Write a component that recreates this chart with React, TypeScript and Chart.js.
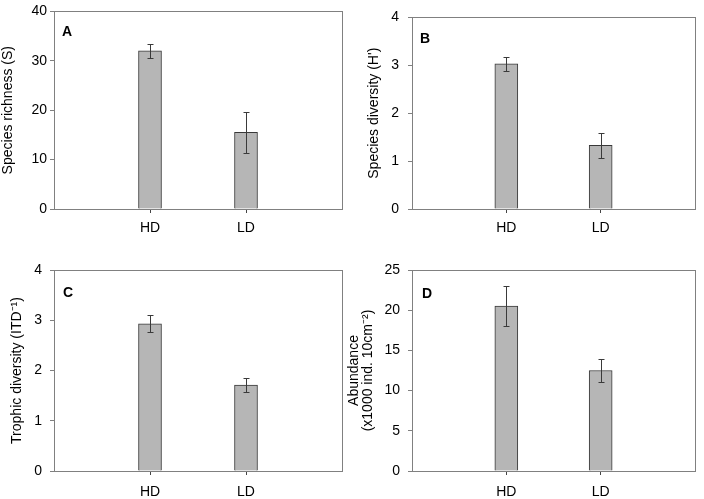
import React, { useEffect, useRef } from "react";
import { Chart, registerables } from "chart.js";

Chart.register(...registerables);

// ---- data ----
const categories = ["HD", "LD"];

const richnessMeans = [32, 15.5];
const richnessErrors = [1.4, 4.2];

const diversityMeans = [3.03, 1.33];
const diversityErrors = [0.15, 0.26];

const trophicMeans = [2.93, 1.71];
const trophicErrors = [0.17, 0.145];

const abundanceMeans = [20.5, 12.5];
const abundanceErrors = [2.5, 1.45];

const FONT = "'Liberation Sans', Arial, Helvetica, sans-serif";
const AXIS_GRAY = "#808080";

type PanelProps = {
  letter: string;
  means: number[];
  errors: number[];
  yMax: number;
  yStep: number;
  yTitle: string | string[];
  titleLineHeight: number;
  left: number;
  top: number;
  width: number;
  height: number;
  yAxisWidth: number;
  xAxisHeight: number;
  padTop: number;
  padRight: number;
  titlePad: number;
  tickPad: number;
  xTickPad: number;
  letterDx: number;
  letterDy: number;
};

function Panel(p: PanelProps) {
  const ref = useRef<HTMLCanvasElement | null>(null);
  useEffect(() => {
    if (!ref.current) return;
    const labels = ["", ...categories, ""];
    const values = [null, ...p.means, null];
    const errs = [null, ...p.errors, null];

    const errorBars = {
      id: "errorBars",
      afterDatasetsDraw(chart: any) {
        const ctx = chart.ctx;
        const xs = chart.scales.x;
        const ys = chart.scales.y;
        ctx.save();
        ctx.strokeStyle = "#3a3a3a";
        ctx.lineWidth = 1;
        for (let i = 0; i < values.length; i++) {
          const v = values[i];
          const e = errs[i];
          if (v == null || e == null) continue;
          const x = Math.round(xs.getPixelForValue(i)) + 0.5;
          const yt = Math.round(ys.getPixelForValue(v + e)) + 0.5;
          const yb = Math.round(ys.getPixelForValue(v - e)) + 0.5;
          ctx.beginPath();
          ctx.moveTo(x, yt);
          ctx.lineTo(x, yb);
          ctx.moveTo(x - 3, yt);
          ctx.lineTo(x + 3, yt);
          ctx.moveTo(x - 3, yb);
          ctx.lineTo(x + 3, yb);
          ctx.stroke();
        }
        ctx.restore();
      },
    };

    const frame = {
      id: "frame",
      afterDraw(chart: any) {
        const { ctx, chartArea } = chart;
        ctx.save();
        ctx.strokeStyle = AXIS_GRAY;
        ctx.lineWidth = 1;
        ctx.strokeRect(
          Math.round(chartArea.left) + 0.5,
          Math.round(chartArea.top) + 0.5,
          Math.round(chartArea.right - chartArea.left),
          Math.round(chartArea.bottom - chartArea.top)
        );
        ctx.fillStyle = "#000";
        ctx.font = `bold 14px ${FONT}`;
        ctx.textBaseline = "top";
        ctx.textAlign = "left";
        ctx.fillText(p.letter, chartArea.left + p.letterDx, chartArea.top + p.letterDy);
        ctx.restore();
      },
    };

    const chart = new Chart(ref.current, {
      type: "bar",
      data: {
        labels,
        datasets: [
          {
            data: values as any,
            backgroundColor: "#b6b6b6",
            borderColor: "#383838",
            borderWidth: 1,
            barThickness: 23,
          },
        ],
      },
      options: {
        animation: false,
        responsive: false,
        maintainAspectRatio: false,
        events: [],
        layout: { padding: { top: p.padTop, right: p.padRight, left: 0, bottom: 0 } },
        plugins: { legend: { display: false }, tooltip: { enabled: false }, title: { display: false } },
        scales: {
          x: {
            type: "category",
            offset: false,
            grid: {
              offset: false,
              drawOnChartArea: false,
              drawTicks: true,
              tickLength: 4,
              tickColor: (c: any) => (c.tick && c.tick.label ? "#444444" : "rgba(0,0,0,0)"),
            },
            border: { display: true, color: AXIS_GRAY },
            ticks: {
              color: "#000",
              font: { family: FONT, size: 14 },
              padding: p.xTickPad,
              maxRotation: 0,
              autoSkip: false,
            },
            afterFit: (s: any) => {
              s.height = p.xAxisHeight;
            },
          },
          y: {
            min: 0,
            max: p.yMax,
            grid: { drawOnChartArea: false, drawTicks: true, tickLength: 4, color: AXIS_GRAY },
            border: { display: true, color: AXIS_GRAY },
            ticks: {
              stepSize: p.yStep,
              color: "#000",
              font: { family: FONT, size: 14 },
              padding: p.tickPad,
            },
            title: {
              display: true,
              text: p.yTitle,
              color: "#000",
              font: { family: FONT, size: 14, lineHeight: p.titleLineHeight },
              padding: { top: p.titlePad, bottom: 0 },
            },
            afterFit: (s: any) => {
              s.width = p.yAxisWidth;
            },
          },
        },
      } as any,
      plugins: [errorBars, frame],
    });
    return () => chart.destroy();
  }, []);

  return (
    <div
      style={{
        position: "fixed",
        left: p.left,
        top: p.top,
        width: p.width,
        height: p.height,
      }}
    >
      <canvas ref={ref} width={p.width} height={p.height} style={{ display: "block" }} />
    </div>
  );
}

export default function App() {
  return (
    <div style={{ position: "fixed", left: 0, top: 0, width: 704, height: 499, background: "#fff" }}>
      <Panel
        letter="A"
        means={richnessMeans}
        errors={richnessErrors}
        yMax={40}
        yStep={10}
        yTitle="Species richness (S)"
        titleLineHeight={1.2}
        left={0}
        top={0}
        width={352}
        height={250}
        yAxisWidth={54}
        xAxisHeight={41}
        padTop={9}
        padRight={10}
        titlePad={0}
        tickPad={3}
        xTickPad={7}
        letterDx={8}
        letterDy={14}
      />
      <Panel
        letter="B"
        means={diversityMeans}
        errors={diversityErrors}
        yMax={4}
        yStep={1}
        yTitle="Species diversity (H')"
        titleLineHeight={1.2}
        left={352}
        top={0}
        width={352}
        height={250}
        yAxisWidth={60}
        xAxisHeight={41}
        padTop={9}
        padRight={9}
        titlePad={13.5}
        tickPad={9}
        xTickPad={7}
        letterDx={8}
        letterDy={15}
      />
      <Panel
        letter="C"
        means={trophicMeans}
        errors={trophicErrors}
        yMax={4}
        yStep={1}
        yTitle="Trophic diversity (ITD⁻¹)"
        titleLineHeight={1.2}
        left={0}
        top={250}
        width={352}
        height={249}
        yAxisWidth={54}
        xAxisHeight={28}
        padTop={20}
        padRight={10}
        titlePad={8.6}
        tickPad={8}
        xTickPad={9}
        letterDx={9}
        letterDy={16}
      />
      <Panel
        letter="D"
        means={abundanceMeans}
        errors={abundanceErrors}
        yMax={25}
        yStep={5}
        yTitle={["Abundance", "(x1000 ind. 10cm⁻²)"]}
        titleLineHeight={1.0}
        left={342}
        top={250}
        width={362}
        height={249}
        yAxisWidth={70}
        xAxisHeight={28}
        padTop={20}
        padRight={9}
        titlePad={5.2}
        tickPad={8}
        xTickPad={9}
        letterDx={10}
        letterDy={17}
      />
    </div>
  );
}
